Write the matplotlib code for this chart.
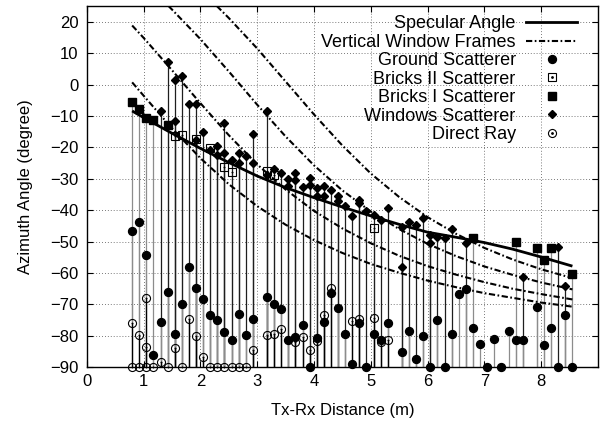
import matplotlib
matplotlib.use('Agg')
import matplotlib.pyplot as plt
from matplotlib.lines import Line2D

plt.rcParams['font.family'] = ['Liberation Sans', 'DejaVu Sans']

# ---------------- data ----------------
positions = [0.8, 0.925, 1.05, 1.175, 1.3, 1.425, 1.55, 1.675, 1.8, 1.925, 2.05, 2.175,
             2.3, 2.425, 2.55, 2.675, 2.8, 2.925,
             3.175, 3.3, 3.425, 3.55, 3.675, 3.8, 3.925, 4.05, 4.175, 4.3, 4.425, 4.55,
             4.675, 4.8, 4.925, 5.05, 5.175, 5.3,
             5.55, 5.675, 5.8, 5.925, 6.05, 6.175, 6.3, 6.425, 6.55, 6.675, 6.8, 6.925,
             7.05, 7.175, 7.3, 7.425, 7.55, 7.675,
             7.925, 8.05, 8.175, 8.3, 8.425, 8.55]

ground_y = [-46.6, -43.8, -54.3, -86.1, -75.7, -66.0, -79.5, -70.0, -58.2, -64.7, -68.3, -73.4,
            -74.9, -78.7, -81.4, -73.1, -79.7, -74.7,
            -67.6, -70.0, -71.6, -81.4, -80.2, -76.6, -90.0, -80.6, -75.6, -66.4, -71.2, -79.3,
            -88.9, -75.9, -90.0, -79.3, -81.3, -75.8,
            -85.1, -78.4, -87.3, -79.9, -90.0, -74.9, -90.0, -79.3, -66.7, -65.2, -77.6, -82.5,
            -90.0, -81.0, -90.0, -78.5, -81.3, -81.3,
            -70.8, -82.9, -77.6, -90.0, -73.5, -90.0]

direct_x = [0.8, 0.8, 0.925, 0.925, 1.05, 1.05, 1.05, 1.175, 1.3, 1.425, 1.55, 1.675, 1.8,
            1.925, 2.05, 2.175, 2.3, 2.425, 2.55, 2.675, 2.8, 2.925, 3.175, 3.3, 3.425,
            3.675, 3.8, 3.925, 4.05, 4.175, 4.3, 4.675, 4.8, 5.05, 5.175, 5.3]
direct_y = [-75.8, -90.0, -79.6, -90.0, -67.9, -83.5, -90.0, -90.0, -88.2, -90.0, -83.9, -90.0,
            -74.7, -80.0, -86.7, -90.0, -90.0, -90.0, -90.0, -90.0, -90.0, -84.4, -79.8, -79.5,
            -77.8, -81.9, -80.3, -84.6, -81.5, -73.5, -64.9, -75.3, -74.5, -74.4, -81.9, -81.2]

bricks2_x = [1.55, 1.675, 1.925, 2.175, 2.425, 2.55, 3.175, 3.3, 5.05]
bricks2_y = [-16.5, -16.0, -17.2, -20.3, -26.2, -27.7, -27.5, -28.8, -45.8]

bricks1_x = [0.8, 0.925, 1.05, 1.175, 1.425, 6.8, 7.55, 7.925, 8.05, 8.175, 8.55]
bricks1_y = [-5.7, -7.7, -10.5, -11.4, -12.8, -48.9, -50.2, -52.1, -55.7, -52.1, -60.3]

windows_x = [1.3, 1.425, 1.55, 1.55, 1.675, 1.8, 1.925, 1.925, 2.05, 2.175, 2.3, 2.3,
             2.425, 2.425, 2.55, 2.675, 2.675, 2.8, 2.925, 2.925, 3.175, 3.175, 3.3, 3.425,
             3.55, 3.55, 3.675, 3.675, 3.8, 3.925, 3.925, 4.05, 4.05, 4.175, 4.175, 4.3,
             4.425, 4.425, 4.55, 4.675, 4.8, 4.8, 4.925, 5.05, 5.175, 5.3, 5.55, 5.55,
             5.675, 5.8, 5.925, 6.05, 6.05, 6.175, 6.3, 6.425, 6.675, 7.675, 8.3, 8.425]
windows_y = [-8.3, 7.2, 1.4, -11.7, 2.8, -6.3, -6.3, -17.7, -15.0, -20.8, -19.6, -22.4,
             -12.1, -21.7, -24.0, -21.8, -25.1, -22.8, -15.7, -25.0, -8.4, -28.7, -26.8, -28.1,
             -30.1, -32.2, -28.0, -30.3, -32.7, -29.6, -31.9, -33.0, -35.4, -32.2, -35.4, -33.5,
             -35.4, -37.2, -38.8, -41.8, -36.7, -37.8, -40.2, -41.5, -43.1, -39.4, -45.4, -58.0,
             -43.9, -44.8, -42.6, -48.0, -50.5, -48.6, -48.8, -46.0, -50.3, -61.4, -51.8, -64.2]

spec_x = [0.8, 1.0, 1.5, 2.0, 2.5, 3.0, 3.5, 4.0, 4.5, 5.0, 5.5, 6.0, 6.5, 7.0, 7.5, 8.0, 8.55]
spec_y = [-8.4, -10.5, -15.5, -20.3, -24.8, -29.1, -32.8, -36.0, -39.0, -41.8, -44.5, -47.0,
          -48.6, -50.3, -52.4, -54.9, -57.8]

frame_x = [0.8, 1.0, 1.5, 2.0, 2.5, 3.0, 3.5, 4.0, 4.5, 5.0, 5.5, 6.0, 6.5, 7.0, 7.5, 8.0, 8.55]
frame1_y = [18.8, 14.9, 4.6, -5.9, -16.1, -25.4, -33.4, -40.2, -45.8, -50.5, -54.5, -57.8,
            -60.5, -62.9, -65.0, -66.7, -68.4]
frame2_y = [0.7, -3.5, -13.9, -23.4, -31.7, -38.7, -44.6, -49.5, -53.6, -57.1, -59.9, -62.4,
            -64.5, -66.4, -67.9, -69.4, -70.7]
frame3_x = [1.44, 1.5, 2.0, 2.5, 3.0, 3.5, 4.0, 4.5, 5.0, 5.5, 6.0, 6.5, 7.0, 7.5, 8.0, 8.55]
frame3_y = [25.0, 23.9, 14.5, 4.2, -6.4, -16.5, -25.7, -33.7, -40.4, -46.0, -50.7, -54.6,
            -57.9, -60.6, -63.0, -65.2]
frame4_x = [2.29, 2.5, 3.0, 3.5, 4.0, 4.5, 5.0, 5.5, 6.0, 6.5, 7.0, 7.5, 8.0, 8.55]
frame4_y = [25.0, 21.2, 11.5, 1.0, -9.5, -19.4, -28.3, -35.8, -42.2, -47.5, -52.0, -55.7,
            -58.8, -61.6]

x_ticks = [0, 1, 2, 3, 4, 5, 6, 7, 8]
y_ticks = [-90, -80, -70, -60, -50, -40, -30, -20, -10, 0, 10, 20]

labels = ['Specular Angle', 'Vertical Window Frames', 'Ground Scatterer',
          'Bricks II Scatterer', 'Bricks I Scatterer', 'Windows Scatterer', 'Direct Ray']

# ---------------- drawing ----------------
BASE = -90
GRAY = '#8c8c8c'
DASHDOT = (0, (3.0, 1.2, 0.8, 1.2))
MS_CIRC = 5.7
MS_OPEN = 5.8
MS_SQ_OPEN = 5.6
MS_SQ = 6.3
MS_DIA = 3.8

fig = plt.figure(figsize=(6.11, 4.26), dpi=100)
ax = fig.add_axes([0.1419, 0.1378, 0.8368, 0.8481])

ax.vlines(bricks1_x, BASE, bricks1_y, colors=GRAY, lw=0.9, zorder=1.0)
ax.vlines(bricks2_x, BASE, bricks2_y, colors=GRAY, lw=0.9, zorder=1.05)
ax.vlines(windows_x, BASE, windows_y, colors='#1e1e1e', lw=0.9, zorder=1.1)
ax.vlines(positions, BASE, ground_y, colors=GRAY, lw=0.9, zorder=1.2)
ax.vlines(direct_x, BASE, direct_y, colors='black', lw=0.9, zorder=1.3)

for fx, fy in [(frame_x, frame1_y), (frame_x, frame2_y), (frame3_x, frame3_y), (frame4_x, frame4_y)]:
    ax.plot(fx, fy, color='black', lw=1.5, ls=DASHDOT, zorder=2)
ax.plot(spec_x, spec_y, color='black', lw=2.0, zorder=2.2, solid_capstyle='butt')

mk = dict(ls='none', clip_on=False)
ax.plot(direct_x, direct_y, marker='o', ms=MS_OPEN, mfc='none', mec='black', mew=0.8, zorder=3, **mk)
ax.plot(direct_x, direct_y, marker='o', ms=1.0, mfc='black', mec='black', mew=0.3, zorder=3, **mk)
ax.plot(positions, ground_y, marker='o', ms=MS_CIRC, color='black', zorder=4, **mk)
ax.plot(bricks2_x, bricks2_y, marker='s', ms=MS_SQ_OPEN, mfc='none', mec='black', mew=0.8, zorder=5, **mk)
ax.plot(bricks2_x, bricks2_y, marker='o', ms=1.0, mfc='black', mec='black', mew=0.3, zorder=5, **mk)
ax.plot(bricks1_x, bricks1_y, marker='s', ms=MS_SQ, color='black', zorder=6, **mk)
ax.plot(windows_x, windows_y, marker='D', ms=MS_DIA, color='black', zorder=7, **mk)

ax.set_xlim(0, 9)
ax.set_ylim(-90, 25)
ax.set_xticks(x_ticks)
ax.set_yticks(y_ticks)
ax.tick_params(direction='in', length=4, width=0.8, top=True, right=True,
               labelsize=12, pad=5)
ax.tick_params(axis='y', pad=6)
ax.grid(True, color='0.3', ls=(0, (1, 2.5)), lw=0.6)
ax.set_axisbelow(True)
for sp in ax.spines.values():
    sp.set_linewidth(1.0)

ax.set_xlabel('Tx-Rx Distance (m)', fontsize=12, labelpad=10)
ax.set_ylabel('Azimuth Angle (degree)', fontsize=12, labelpad=12)

# legend (gnuplot style: text right-aligned, key sample on the right)
h_spec = Line2D([], [], color='black', lw=2.0)
h_frame = Line2D([], [], color='black', lw=1.5, ls=DASHDOT)
h_ground = Line2D([], [], ls='none', marker='o', ms=MS_CIRC, color='black')
h_b2 = (Line2D([], [], ls='none', marker='s', ms=MS_SQ_OPEN, mfc='none', mec='black', mew=0.8),
        Line2D([], [], ls='none', marker='o', ms=1.0, color='black'))
h_b1 = Line2D([], [], ls='none', marker='s', ms=MS_SQ, color='black')
h_win = Line2D([], [], ls='none', marker='D', ms=MS_DIA, color='black')
h_dir = (Line2D([], [], ls='none', marker='o', ms=MS_OPEN, mfc='none', mec='black', mew=0.8),
         Line2D([], [], ls='none', marker='o', ms=1.0, color='black'))
leg = ax.legend([h_spec, h_frame, h_ground, h_b2, h_b1, h_win, h_dir], labels,
                loc='upper right', bbox_to_anchor=(0.959, 0.974), frameon=False,
                markerfirst=False, fontsize=13, handlelength=2.8, handletextpad=0.6,
                labelspacing=0.08, borderpad=0, borderaxespad=0, numpoints=1)

fig.savefig('out.png', dpi=100)
